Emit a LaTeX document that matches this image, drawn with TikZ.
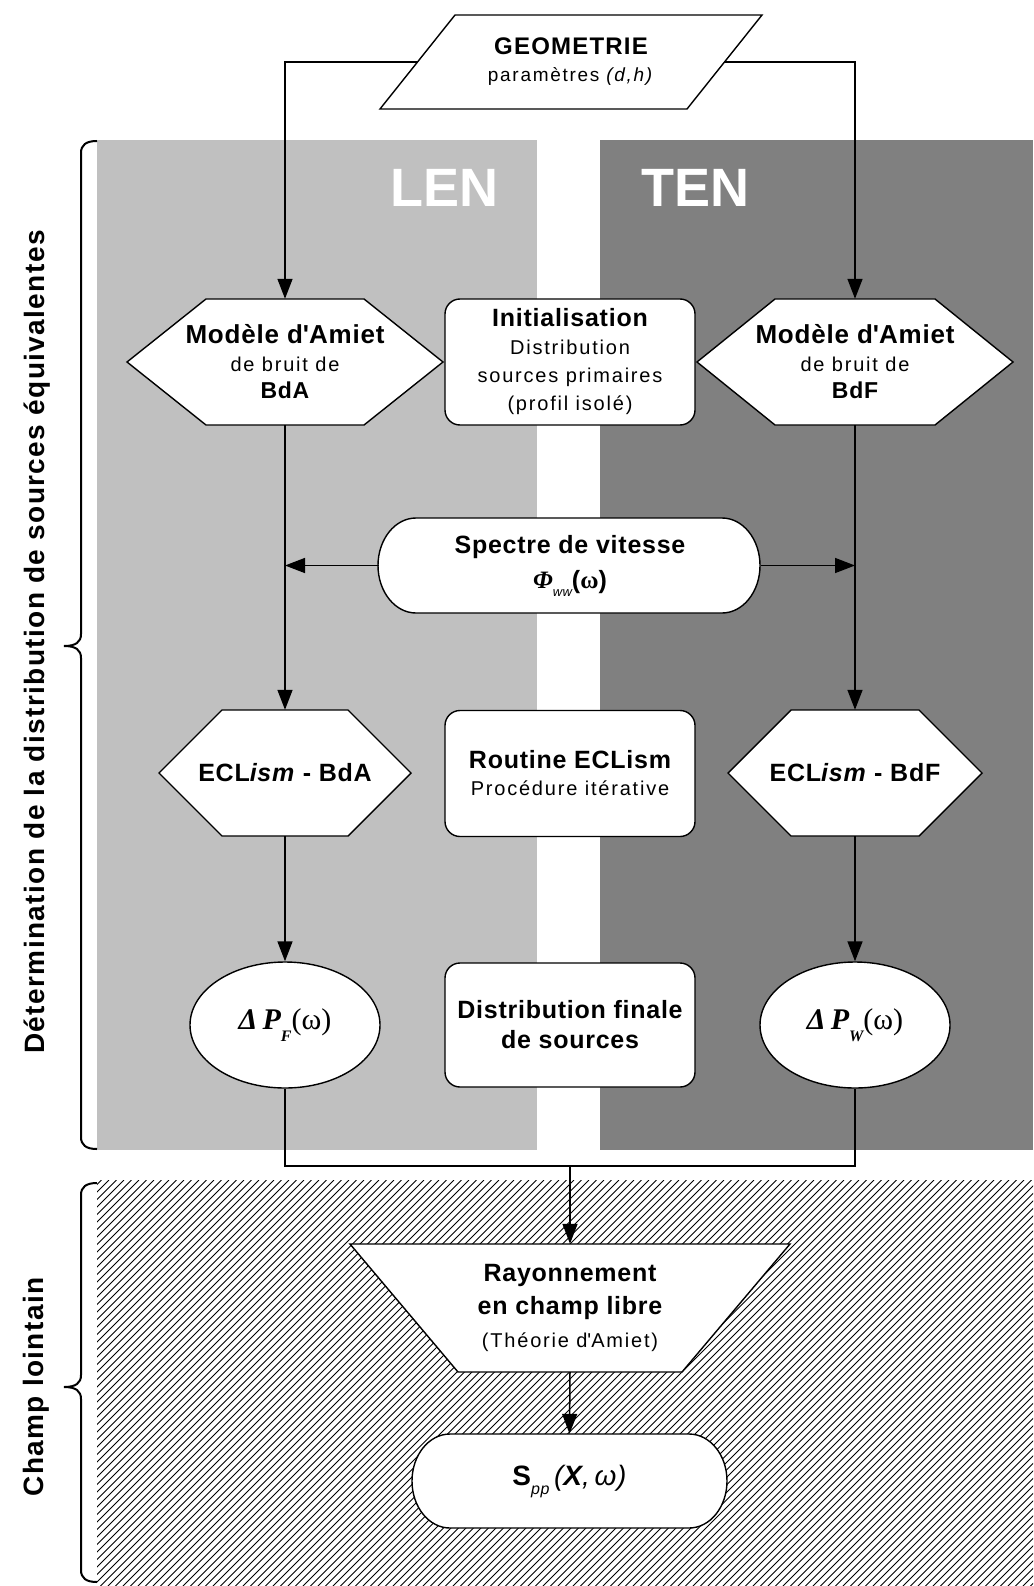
\documentclass[tikz,border=0pt]{standalone}
\usepackage{fontspec}
\setmainfont{Liberation Sans}[LetterSpace=3]
\newfontfamily\plainsans{Liberation Sans}
\newfontfamily\regfont{Liberation Sans}[LetterSpace=9]
\newfontfamily\labfont{Liberation Sans}[LetterSpace=5]
\newfontfamily\serifb{Liberation Serif}
\usetikzlibrary{arrows.meta,shapes.geometric}
\definecolor{lgray}{HTML}{C0C0C0}
\definecolor{dgray}{HTML}{808080}
\newcommand\fsz[2]{\fontsize{#1}{#2}\selectfont}
\begin{document}
\begin{tikzpicture}[x=1pt,y=-1pt,
  outline/.style={draw=black,line width=1.4pt,fill=white},
  conn/.style={draw=black,line width=1.5pt},
  arr/.style={conn,-{Triangle[length=20pt,width=15pt]}},
  hold/.style={inner sep=0pt,align=center,text=black},
  roundbox/.style={hold,outline,rounded corners=15pt,minimum width=250pt,minimum height=126pt},
  bracepath/.style={draw=black,line width=2pt},
  hatch/.style={draw=black,line width=0.9pt}]

\useasboundingbox (0,0) rectangle (1033,1586);
\fill[white] (0,0) rectangle (1033,1586);
% panels
\fill[lgray] (97,140) rectangle (537,1150);
\fill[dgray] (600,140) rectangle (1033,1150);
\begin{scope}
  \clip (97,1180) rectangle (1033,1586);
  \foreach \i in {-312,-304.5,...,1040} \draw[hatch] (\i,1586) -- ({\i+406},1180);
\end{scope}

% braces
\draw[bracepath] (97,141) .. controls (86,141) and (81,145) .. (81,153) -- (81,634)
  .. controls (81,642) and (76,646) .. (64,646) .. controls (76,646) and (81,650) .. (81,658)
  -- (81,1137) .. controls (81,1145) and (86,1149) .. (97,1149);
\draw[bracepath] (97,1183) .. controls (86,1183) and (81,1187) .. (81,1195) -- (81,1375)
  .. controls (81,1383) and (76,1387) .. (64,1387) .. controls (76,1387) and (81,1391) .. (81,1399)
  -- (81,1570) .. controls (81,1578) and (86,1582) .. (97,1582);

% side labels
\node[rotate=90,inner sep=0pt,font=\labfont\bfseries\fsz{28}{30}] (lab1) at (37,642)
  {Détermination de la distribution de sources équivalentes};
\node[rotate=90,inner sep=0pt,font=\labfont\bfseries\fsz{28}{30}] (lab2) at (36,1387)
  {Champ lointain};

% panel titles
\node[anchor=base,inner sep=0pt,text=white,font=\plainsans\bfseries\fsz{54}{56}] (len) at (444,207) {LEN};
\node[anchor=base,inner sep=0pt,text=white,font=\plainsans\bfseries\fsz{54}{56}] (ten) at (695,207) {TEN};

% outlines of special shapes
\draw[outline] (455,15) -- (762,15) -- (687,109) -- (380,109) -- cycle;
\draw[outline] (127,362) -- (206,299) -- (364,299) -- (443,362) -- (364,425) -- (206,425) -- cycle;
\draw[outline] (697,362) -- (775,299) -- (935,299) -- (1013,362) -- (935,425) -- (775,425) -- cycle;
\draw[outline] (159,773) -- (222,710) -- (348,710) -- (411,773) -- (348,836) -- (222,836) -- cycle;
\draw[outline] (728,773) -- (791,710) -- (919,710) -- (982,773) -- (919,836) -- (791,836) -- cycle;
\draw[outline] (416,518) -- (722,518) .. controls (743,518) and (760,539.3) .. (760,565.5)
  .. controls (760,591.7) and (743,613) .. (722,613) -- (416,613)
  .. controls (395,613) and (378,591.7) .. (378,565.5) .. controls (378,539.3) and (395,518) .. (416,518) -- cycle;
\draw[outline] (350,1244) -- (790,1244) -- (682,1372) -- (458,1372) -- cycle;
\draw[outline] (450,1434) -- (689,1434) .. controls (710,1434) and (727,1455) .. (727,1481)
  .. controls (727,1507) and (710,1528) .. (689,1528) -- (450,1528)
  .. controls (429,1528) and (412,1507) .. (412,1481) .. controls (412,1455) and (429,1434) .. (450,1434) -- cycle;

% nodes
\node[hold,minimum width=307pt,minimum height=94pt,font=\fsz{24}{27}] (geom) at (571,62)
  {{\labfont\bfseries GEOMETRIE}\\{\regfont\fsz{19}{27}param\`etres \textit{(d,h)}}};
\node[hold,minimum width=316pt,minimum height=126pt,font=\fsz{26}{27.5}] (modA) at (285,362)
  {{\bfseries Modèle d\textquotesingle Amiet}\\{\regfont\fsz{20}{27.5}de bruit de}\\{\bfseries\fsz{23}{27.5}BdA}};
\node[hold,minimum width=316pt,minimum height=126pt,font=\fsz{26}{27.5}] (modF) at (855,362)
  {{\bfseries Modèle d\textquotesingle Amiet}\\{\regfont\fsz{20}{27.5}de bruit de}\\{\bfseries\fsz{23}{27.5}BdF}};
\node[roundbox,font=\fsz{25}{28}] (init) at (570,362)
  {{\bfseries Initialisation}\\{\regfont\fsz{20}{28}Distribution}\\{\regfont\fsz{20}{28}sources primaires}\\{\regfont\fsz{20}{28}(profil isolé)}};
\node[hold,minimum width=382pt,minimum height=95pt,font=\fsz{25}{35}] (spec) at (570,565.5)
  {{\bfseries Spectre de vitesse}\\{\serifb\bfseries\itshape Φ}\raisebox{-8pt}{\fsz{13}{13}\itshape ww}{\bfseries(}{\serifb\bfseries ω}{\bfseries)}};
\node[hold,minimum width=252pt,minimum height=126pt,font=\fsz{25}{27}\bfseries] (eclA) at (285,773)
  {ECL\textit{ism} - BdA};
\node[hold,minimum width=254pt,minimum height=126pt,font=\fsz{25}{27}\bfseries] (eclF) at (855,773)
  {ECL\textit{ism} - BdF};
\node[roundbox,font=\fsz{25}{27}] (rout) at (570,773.5)
  {{\bfseries Routine ECLism}\\{\regfont\fsz{20}{27}Procédure itérative}};
\node[hold,outline,ellipse,minimum width=190pt,minimum height=126pt,font=\serifb\fsz{30}{32}] (dpF) at (285,1025)
  {{\bfseries\itshape Δ\,P}\raisebox{-12pt}{\fsz{16}{16}\bfseries\itshape F}(ω)};
\node[hold,outline,ellipse,minimum width=190pt,minimum height=126pt,font=\serifb\fsz{30}{32}] (dpW) at (855,1025)
  {{\bfseries\itshape Δ\,P}\raisebox{-12pt}{\fsz{16}{16}\bfseries\itshape W}(ω)};
\node[roundbox,minimum height=124pt,font=\fsz{25}{30}\bfseries] (dist) at (570,1025)
  {Distribution finale\\de sources};
\node[hold,minimum width=440pt,minimum height=128pt,font=\fsz{25}{33}] (ray) at (570,1308)
  {{\bfseries Rayonnement}\\{\bfseries en champ libre}\\{\regfont\fsz{20}{33}(Théorie d\textquotesingle Amiet)}};
\node[hold,minimum width=315pt,minimum height=94pt,font=\fsz{28}{30}] (spp) at (569.5,1481)
  {{\bfseries S}\raisebox{-9pt}{\fsz{16}{16}\itshape pp}\,{\itshape(\textbf{X},\,ω)}};

% connectors
\coordinate (join) at (570,1166);
\draw[arr] (geom.west) -| (modA.north);
\draw[arr] (geom.east) -| (modF.north);
\draw[arr] (modA.south) -- (eclA.north);
\draw[arr] (modF.south) -- (eclF.north);
\draw[arr] (spec.west) -- (spec.west -| modA.south);
\draw[arr] (spec.east) -- (spec.east -| modF.south);
\draw[arr] (eclA.south) -- (dpF.north);
\draw[arr] (eclF.south) -- (dpW.north);
\draw[conn] (dpF.south) |- (join) -| (dpW.south);
\draw[arr] (join) -- (ray.north);
\draw[arr] (ray.south) -- (spp.north);
\end{tikzpicture}
\end{document}
